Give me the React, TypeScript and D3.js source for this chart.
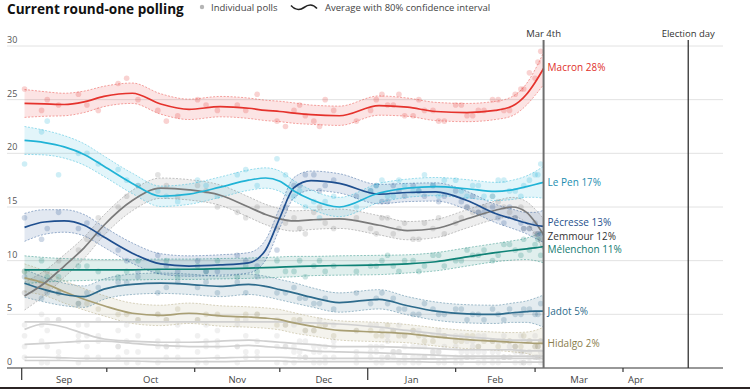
import React from 'react';
import * as d3 from 'd3';

// smoothed averages, sampled on these dates
const lineDates = [
  '2021-09-02', '2021-09-09', '2021-09-16', '2021-09-23', '2021-09-30', '2021-10-10',
  '2021-10-20', '2021-10-30', '2021-11-10', '2021-11-20', '2021-11-26', '2021-12-01',
  '2021-12-06', '2021-12-12', '2021-12-22', '2022-01-05', '2022-01-15', '2022-01-25',
  '2022-02-05', '2022-02-15', '2022-02-21', '2022-02-26', '2022-03-01', '2022-03-04',
];
const macron = [24.65, 24.6, 24.55, 24.8, 25.3, 25.6, 24.6, 24.1, 24.35, 24.2, 24.0, 23.9, 23.75, 23.6, 23.5, 24.45, 24.3, 23.9, 23.8, 24.0, 24.4, 25.5, 26.6, 27.9];
const lePen = [21.2, 21.0, 20.6, 19.9, 18.8, 17.2, 16.0, 16.2, 16.85, 17.5, 17.7, 17.4, 16.5, 15.7, 15.0, 16.3, 16.75, 16.9, 16.7, 16.45, 16.6, 16.9, 17.1, 17.3];
const pecresse = [13.1, 13.6, 13.7, 13.3, 12.2, 10.7, 9.7, 9.5, 9.6, 9.8, 11.0, 14.0, 16.8, 17.45, 17.2, 16.2, 16.35, 16.4, 15.6, 14.4, 13.9, 13.5, 13.3, 13.2];
const zemmour = [6.7, 7.9, 9.5, 11.2, 13.3, 15.6, 16.75, 16.6, 16.1, 15.0, 14.3, 13.9, 13.7, 13.8, 13.9, 13.3, 12.8, 13.0, 13.9, 14.7, 15.0, 14.5, 13.6, 12.4];
const melenchon = [9.15, 9.15, 9.15, 9.15, 9.15, 9.15, 9.2, 9.2, 9.25, 9.3, 9.35, 9.4, 9.45, 9.5, 9.55, 9.6, 9.7, 9.9, 10.35, 10.75, 10.95, 11.1, 11.2, 11.3];
const jadot = [7.9, 7.3, 6.85, 6.65, 7.35, 7.8, 7.9, 7.8, 7.6, 7.8, 7.6, 7.3, 7.0, 6.6, 6.1, 6.4, 5.8, 5.3, 5.05, 5.0, 5.15, 5.25, 5.3, 5.3];
const hidalgo = [8.4, 7.9, 7.1, 6.4, 5.8, 5.1, 4.9, 5.1, 4.85, 4.75, 4.65, 4.5, 4.2, 3.9, 3.5, 3.35, 3.2, 2.9, 2.65, 2.5, 2.4, 2.35, 2.3, 2.3];
const minor1 = [4.3, 4.3, 4.3, 4.3, 4.3, 4.3, 4.3, 4.3, 4.3, 4.3, 4.3, 4.3, 4.25, 4.2, 4.1, 3.8, 3.5, 3.2, 2.9, 2.7, 2.6, 2.6, 2.6, 2.6];
const minor2 = [3.6, 4.1, 3.8, 3.2, 2.7, 2.5, 2.4, 2.4, 2.5, 2.6, 2.5, 2.4, 2.3, 2.2, 2.0, 2.0, 1.9, 1.8, 1.7, 1.7, 1.7, 1.6, 1.6, 1.6];
const minor3 = [2.2, 2.3, 2.4, 2.5, 2.5, 2.3, 2.1, 2.0, 2.0, 2.1, 2.0, 1.9, 1.8, 1.6, 1.5, 1.4, 1.3, 1.2, 1.1, 1.1, 1.1, 1.1, 1.1, 1.1];
const minor4 = [1.0, 1.0, 0.95, 0.9, 0.9, 0.9, 0.9, 0.9, 0.95, 1.0, 1.0, 1.0, 0.95, 0.9, 0.9, 0.9, 0.85, 0.85, 0.9, 0.9, 0.9, 0.9, 0.9, 0.9];
const minor5 = [0.7, 0.7, 0.7, 0.65, 0.65, 0.65, 0.6, 0.6, 0.6, 0.65, 0.65, 0.65, 0.6, 0.6, 0.6, 0.6, 0.6, 0.55, 0.55, 0.55, 0.55, 0.55, 0.55, 0.55];
// half-width of the 80% interval, same dates
const bandHalf = [1.3, 1.15, 1.05, 1.0, 0.95, 0.95, 0.95, 0.95, 0.95, 0.95, 0.95, 0.95, 0.95, 0.9, 0.9, 0.9, 0.85, 0.85, 0.85, 0.85, 0.9, 1.0, 1.2, 1.5];

// individual polls, first batch
const pollDates = [
  '2021-09-02', '2021-09-08', '2021-09-14', '2021-09-21', '2021-09-28', '2021-10-05', '2021-10-12',
  '2021-10-19', '2021-10-26', '2021-11-02', '2021-11-09', '2021-11-16', '2021-11-23', '2021-11-30',
  '2021-12-06', '2021-12-10', '2021-12-15', '2021-12-20', '2021-12-28', '2022-01-04', '2022-01-08',
  '2022-01-12', '2022-01-17', '2022-01-21', '2022-01-26', '2022-02-01', '2022-02-05', '2022-02-09',
  '2022-02-14', '2022-02-18', '2022-02-22', '2022-02-25', '2022-03-01', '2022-03-03',
];
const macronPolls = [26, 24, 24.5, 25.5, 24, 26.5, 25, 24, 23.5, 25, 24, 24.5, 25.5, 23, 24, 23.5, 22.5, 24, 23, 25, 24.5, 25.5, 23.5, 24, 23, 24.5, 23.5, 24, 25, 24, 25.5, 26, 27, 29.5];
const lePenPolls = [19, 22, 18, 20, 19, 18.5, 17, 16.5, 15.5, 17.5, 16, 18, 17, 19.5, 16, 15, 14, 16, 15, 17, 16, 17.5, 16.5, 18, 16, 17.5, 16, 17, 16, 17.5, 16.5, 17, 18, 19];
const pecressePolls = [14, 12, 14.5, 13, 12.5, 11, 9, 10.5, 9, 10, 9, 10.5, 9.5, 11, 17, 18, 16.5, 17.5, 16, 17, 15.5, 16.5, 17, 16, 15.5, 16.5, 15, 14.5, 15, 13.5, 14, 13, 13.5, 12.5];
const zemmourPolls = [7, 8, 10, 11, 14, 15, 17, 18, 16, 17, 15, 14.5, 15, 13, 14, 12.5, 15, 13, 14, 12.5, 14, 13, 12, 13.5, 14, 13.5, 15, 14.5, 16, 15, 14, 13, 12.5, 12];
const melenchonPolls = [9, 10, 8.5, 9.5, 9, 8.5, 10, 9, 8.5, 9.5, 10, 8.5, 9, 10, 9, 8.5, 10, 9.5, 9, 9.5, 10.5, 9, 10, 9.5, 10.5, 10, 11, 10.5, 10, 11.5, 11, 12, 11.5, 10.5];
const jadotPolls = [8.5, 6.5, 7, 6, 7.5, 8, 8.5, 7, 8, 7.5, 7, 8, 8.5, 7, 7.5, 6.5, 6, 5.5, 7, 6.5, 6, 5.5, 5, 6, 5, 5.5, 4.5, 5, 5.5, 4.5, 5, 5.5, 5, 6];
const hidalgoPolls = [9, 7.5, 7, 6, 5.5, 5, 4.5, 5, 5.5, 4.5, 5, 4.5, 5, 4, 4.5, 3.5, 4, 3, 3.5, 3, 4, 3, 3.5, 2.5, 3, 2.5, 3, 2, 2.5, 2.5, 2, 3, 2, 2.5];
const minor1Polls = [4, 5, 4.5, 4, 4.5, 3.5, 4.5, 5, 4, 4.5, 3.5, 4, 5, 4.5, 4, 3.5, 4.5, 4, 3.5, 4, 3, 4, 3.5, 3, 3.5, 3, 2.5, 3, 2.5, 3, 2, 2.5, 3, 2.5];
const minor2Polls = [3, 4, 4.5, 3, 2.5, 2, 3, 2.5, 2, 3, 2.5, 2, 2.5, 3, 2, 2.5, 2, 2.5, 1.5, 2, 2.5, 1.5, 2, 2, 1.5, 2, 1.5, 2, 1.5, 1, 2, 1.5, 2, 1.5];
const minor3Polls = [2, 2.5, 1.5, 2.5, 3, 2, 1.5, 2, 2.5, 1.5, 2, 2, 1.5, 2, 1.5, 1, 1.5, 2, 1, 1.5, 1, 1.5, 1, 1, 1.5, 1, 1, 1.5, 1, 1, 1.5, 0.5, 1, 1];
const minor4Polls = [1, 0.5, 1, 0.5, 1, 1, 0.5, 0.5, 1, 0.5, 1, 0.5, 1, 0.5, 0.5, 1, 0.5, 1, 0.5, 0.5, 1, 0.5, 0.5, 1, 0.5, 0.5, 1, 0.5, 0.5, 1, 0.5, 0.5, 1, 0.5];

// individual polls, second batch
const pollDates2 = [
  '2021-09-10', '2021-09-24', '2021-10-08', '2021-10-22', '2021-11-05', '2021-11-19', '2021-12-03',
  '2021-12-08', '2021-12-13', '2021-12-17', '2022-01-02', '2022-01-06', '2022-01-10', '2022-01-14',
  '2022-01-19', '2022-01-24', '2022-01-28', '2022-02-03', '2022-02-07', '2022-02-11', '2022-02-16',
  '2022-02-20', '2022-02-24', '2022-02-27', '2022-03-02',
];
const macronPolls2 = [25, 24.5, 27, 23, 24.5, 24, 22.5, 24.5, 23, 25, 24, 25.5, 24.5, 23.5, 25, 24, 23, 24.5, 23.5, 24, 25, 24, 26, 27.5, 28.5];
const lePenPolls2 = [23, 20, 17.5, 16, 17, 18.5, 18, 16.5, 15.5, 15.5, 16.5, 17.5, 16, 17, 16.5, 17, 17.5, 16.5, 17, 16, 17.5, 16.5, 16, 17.5, 18];
const pecressePolls2 = [13, 13.5, 10, 9.5, 9, 10, 15, 17, 18, 17, 16.5, 15.5, 17, 16, 16.5, 17, 16, 15.5, 16, 14.5, 14, 15, 13.5, 13, 12.5];
const zemmourPolls2 = [9, 12, 16, 17, 16.5, 14, 13.5, 13, 14.5, 13.5, 13, 14, 12.5, 13.5, 12, 13, 12.5, 14, 14.5, 15, 15.5, 14.5, 15, 13, 12.5];
const melenchonPolls2 = [8.5, 9.5, 9, 10, 9, 9.5, 9, 10, 9.5, 9, 9.5, 10, 9.5, 10, 9, 10.5, 9.5, 10, 10.5, 11, 10.5, 11.5, 10.5, 11, 12];
const jadotPolls2 = [7, 7, 8, 7.5, 8, 7, 7, 6.5, 6, 6.5, 6, 7, 6.5, 5.5, 5, 5.5, 5, 5.5, 5, 4.5, 5, 5.5, 5, 5.5, 5];
const hidalgoPolls2 = [7.5, 6, 5, 4.5, 5, 5, 4, 4.5, 3.5, 4, 3.5, 3, 3.5, 3, 3, 2.5, 3, 2.5, 3, 2.5, 2, 2.5, 2, 2.5, 2];
const minor1Polls2 = [4.5, 4, 4, 4.5, 4, 4.5, 4, 4.5, 3.5, 4, 4, 3.5, 3.5, 3, 3.5, 3, 3, 3, 2.5, 3, 2.5, 2.5, 3, 2.5, 2];
const minor2Polls2 = [3.5, 3, 2.5, 2, 2.5, 3, 2, 2.5, 2, 2, 2, 2, 1.5, 2, 2, 1.5, 2, 1.5, 2, 1.5, 1.5, 2, 1.5, 1.5, 2];
const minor3Polls2 = [2, 2, 1.5, 2, 2, 1.5, 2, 1.5, 1.5, 1, 1.5, 1, 1.5, 1, 1, 1.5, 1, 1, 1.5, 1, 1, 1, 1.5, 1, 1];
const minor4Polls2 = [0.5, 1, 0.5, 1, 0.5, 1, 0.5, 1, 0.5, 0.5, 1, 0.5, 1, 0.5, 0.5, 1, 0.5, 0.5, 1, 0.5, 0.5, 1, 0.5, 0.5, 1];

const yTicks = [0, 5, 10, 15, 20, 25, 30];
const todayDate = '2022-03-04';
const electionDate = '2022-04-24';
const roundOneDate = '2022-04-10';

const parse = d3.timeParse('%Y-%m-%d');
const FONT = "'Open Sans', 'DejaVu Sans', sans-serif";

type Series = {
  name: string;
  line: number[];
  polls: number[];
  polls2: number[];
  color: string;
  labelColor: string;
  labelDy: number;
};

const GREY = '#d0d0d0';
const minors: Series[] = [
  { name: 'm1', line: minor1, polls: minor1Polls, polls2: minor1Polls2, color: GREY, labelColor: '', labelDy: 0 },
  { name: 'm2', line: minor2, polls: minor2Polls, polls2: minor2Polls2, color: GREY, labelColor: '', labelDy: 0 },
  { name: 'm3', line: minor3, polls: minor3Polls, polls2: minor3Polls2, color: GREY, labelColor: '', labelDy: 0 },
  { name: 'm4', line: minor4, polls: minor4Polls, polls2: minor4Polls2, color: GREY, labelColor: '', labelDy: 0 },
  { name: 'm5', line: minor5, polls: [], polls2: [], color: GREY, labelColor: '', labelDy: 0 },
];

const mains: Series[] = [
  { name: 'Hidalgo', line: hidalgo, polls: hidalgoPolls, polls2: hidalgoPolls2, color: '#a99f74', labelColor: '#8a7d4c', labelDy: 0 },
  { name: 'Jadot', line: jadot, polls: jadotPolls, polls2: jadotPolls2, color: '#2d6b8c', labelColor: '#2d6b8c', labelDy: 0 },
  { name: 'Mélenchon', line: melenchon, polls: melenchonPolls, polls2: melenchonPolls2, color: '#0f8276', labelColor: '#0f7a70', labelDy: 3 },
  { name: 'Zemmour', line: zemmour, polls: zemmourPolls, polls2: zemmourPolls2, color: '#7a7a7a', labelColor: '#333333', labelDy: 1.5 },
  { name: 'Pécresse', line: pecresse, polls: pecressePolls, polls2: pecressePolls2, color: '#1f4f8f', labelColor: '#25508c', labelDy: -3.5 },
  { name: 'Le Pen', line: lePen, polls: lePenPolls, polls2: lePenPolls2, color: '#20b3d6', labelColor: '#1a8db0', labelDy: 0 },
  { name: 'Macron', line: macron, polls: macronPolls, polls2: macronPolls2, color: '#e5322c', labelColor: '#e0302a', labelDy: -1.5 },
];

export default function App() {
  const width = 750;
  const height = 389;
  const lDates = lineDates.map(d => parse(d)!);
  const pDates = pollDates.map(d => parse(d)!);
  const pDates2 = pollDates2.map(d => parse(d)!);

  const x = d3.scaleTime()
    .domain([parse('2021-09-01')!, parse('2022-04-01')!])
    .range([21.7, 623]);
  const y = d3.scaleLinear().domain([0, 30]).range([368, 46]);

  const axisStart = 7;
  const axisEnd = 723;
  const months = d3.timeMonth.range(parse('2021-09-01')!, parse('2022-05-01')!);
  const roundOne = parse(roundOneDate)!;
  const today = parse(todayDate)!;
  const election = parse(electionDate)!;

  const line = d3.line<number>()
    .x((_, i) => x(lDates[i]))
    .y(d => y(d))
    .curve(d3.curveMonotoneX);
  const upper = d3.line<number>()
    .x((_, i) => x(lDates[i]))
    .y((d, i) => y(d + bandHalf[i]))
    .curve(d3.curveMonotoneX);
  const lower = d3.line<number>()
    .x((_, i) => x(lDates[i]))
    .y((d, i) => y(d - bandHalf[i]))
    .curve(d3.curveMonotoneX);
  const area = d3.area<number>()
    .x((_, i) => x(lDates[i]))
    .y0((d, i) => y(d - bandHalf[i]))
    .y1((d, i) => y(d + bandHalf[i]))
    .curve(d3.curveMonotoneX);

  const all = [...minors, ...mains];
  const dotFill = (s: Series) => (s.color === GREY ? '#bcbcbc' : s.color);

  return (
    <svg width={width} height={height} style={{ position: 'absolute', left: 0, top: 0, background: '#fff' }} fontFamily={FONT}>
      <rect width={width} height={height} fill="#fff" />

      {/* title + legend */}
      <text x={7} y={14} fontSize={13.6} fontWeight={700} fill="#111">Current round-one polling</text>
      <circle cx={202} cy={7} r={2.2} fill="#b5b5b5" />
      <text x={211} y={10.5} fontSize={9.5} fill="#444">Individual polls</text>
      <path d="M291,5.5 C295,10 300,10.5 304,7.5 C308,4.5 313,4 317,8.5" fill="none" stroke="#222" strokeWidth={1.6} />
      <text x={325} y={10.5} fontSize={9.5} fill="#444">Average with 80% confidence interval</text>

      {/* grid */}
      {yTicks.map(t => (
        <g key={t}>
          {t > 0 && <line x1={axisStart} x2={axisEnd} y1={y(t)} y2={y(t)} stroke="#e2e2e2" strokeWidth={1} />}
          <text x={7} y={y(t) - 3} fontSize={9} fill="#555">{t}</text>
        </g>
      ))}

      {/* bands */}
      {mains.map(s => (
        <path key={s.name + 'band'} d={area(s.line)!} fill={s.color} fillOpacity={0.13} />
      ))}

      {/* poll dots */}
      {all.map(s => (
        <g key={s.name + 'dots'} fill={dotFill(s)} fillOpacity={0.22}>
          {s.polls.map((v, i) => (
            <circle key={'a' + i} cx={x(pDates[i])} cy={y(v)} r={2.8} />
          ))}
          {s.polls2.map((v, i) => (
            <circle key={'b' + i} cx={x(pDates2[i])} cy={y(v)} r={2.8} />
          ))}
        </g>
      ))}

      {/* band edges */}
      {mains.map(s => (
        <g key={s.name + 'edge'} fill="none" stroke={s.color} strokeOpacity={0.55} strokeWidth={0.8} strokeDasharray="2,1.5">
          <path d={upper(s.line)!} />
          <path d={lower(s.line)!} />
        </g>
      ))}

      {/* average lines */}
      {minors.map(s => (
        <path key={s.name + 'line'} d={line(s.line)!} fill="none" stroke={s.color} strokeWidth={1.7} />
      ))}
      {mains.map(s => (
        <path key={s.name + 'line'} d={line(s.line)!} fill="none" stroke={s.color} strokeWidth={1.7} />
      ))}

      {/* x axis */}
      <line x1={axisStart} x2={axisEnd} y1={y(0)} y2={y(0)} stroke="#333" strokeWidth={1.2} />
      {months.map(m => {
        const major = m.getMonth() === 8 || m.getMonth() === 0;
        const next = d3.timeMonth.offset(m, 1);
        const end = next > roundOne ? roundOne : next;
        const mid = (x(m) + x(end)) / 2;
        return (
          <g key={m.toISOString()}>
            <line x1={x(m)} x2={x(m)} y1={y(0)} y2={y(0) + (major ? 12 : 4)} stroke="#333" strokeWidth={1.2} />
            <text x={mid} y={383} fontSize={9.5} fill="#444" textAnchor="middle">{d3.timeFormat('%b')(m)}</text>
          </g>
        );
      })}

      {/* today / election markers */}
      <line x1={x(today)} x2={x(today)} y1={40} y2={y(0)} stroke="#6e6e6e" strokeWidth={2} />
      <text x={x(today)} y={37} fontSize={9.5} fill="#333" textAnchor="middle">Mar 4th</text>
      <line x1={x(election)} x2={x(election)} y1={40} y2={y(0)} stroke="#333" strokeWidth={1.3} />
      <text x={x(election)} y={37} fontSize={9.5} fill="#333" textAnchor="middle">Election day</text>

      {/* end labels */}
      {mains.map(s => {
        const last = s.line[s.line.length - 1];
        return (
          <text key={s.name + 'lab'} x={x(today) + 4} y={y(last) + s.labelDy} dy="0.35em" fontSize={10}
            fill={s.labelColor} stroke="#fff" strokeWidth={3} paintOrder="stroke">
            {s.name} {Math.round(last)}%
          </text>
        );
      })}

      <rect x={0} y={387} width={width} height={2} fill="#2b2424" />
    </svg>
  );
}
